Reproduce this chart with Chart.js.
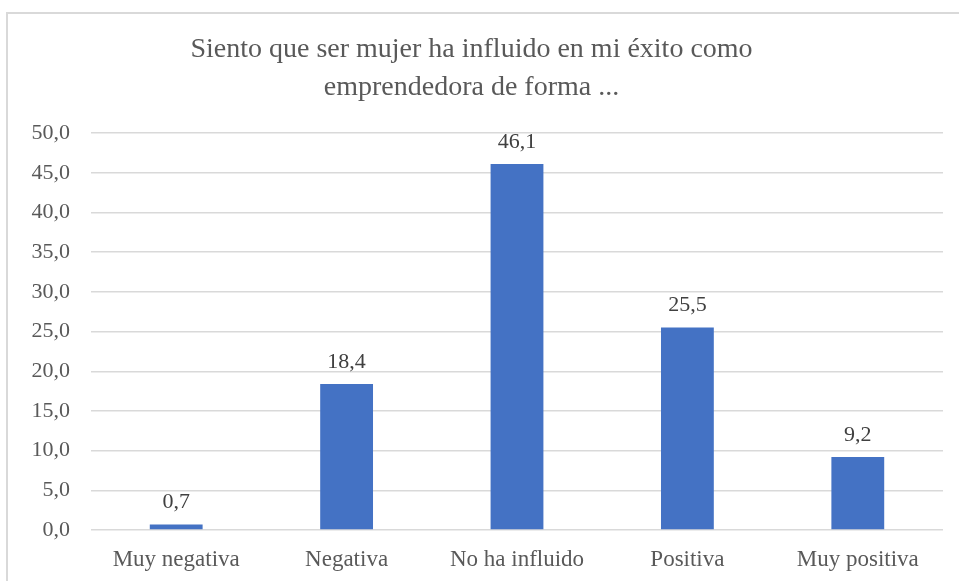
<!DOCTYPE html>
<html lang="es">
<head>
<meta charset="utf-8">
<title>Siento que ser mujer ha influido en mi éxito</title>
<script src="https://cdn.jsdelivr.net/npm/chart.js@4.4.1/dist/chart.umd.min.js"></script>
<style>
  html, body { margin: 0; padding: 0; background: #fff; overflow: hidden; }
  #frame {
    position: absolute; left: 6px; top: 12px; width: 980px; height: 600px;
    border: 2px solid #d9d9d9; box-sizing: border-box;
  }
  #wrap { position: absolute; left: 0; top: 0; width: 959px; height: 581px; }
</style>
</head>
<body>
<div id="frame"></div>
<div id="wrap"><canvas id="chart"></canvas></div>
<script>
const categories = ["Muy negativa", "Negativa", "No ha influido", "Positiva", "Muy positiva"];
const values = [0.7, 18.4, 46.1, 25.5, 9.2];
const titleLines = ["Siento que ser mujer ha influido en mi éxito como", "emprendedora de forma ..."];

const SERIF = "'Liberation Serif', 'Times New Roman', serif";
const TEXT = "#595959";

function fmt(v) {
  return Number(v).toFixed(1).replace(".", ",");
}

// labels over each bar, like the Excel data labels
const barLabels = {
  id: "barLabels",
  afterDatasetsDraw(chart) {
    const ctx = chart.ctx;
    const meta = chart.getDatasetMeta(0);
    ctx.save();
    ctx.font = "22px " + SERIF;
    ctx.fillStyle = "#404040";
    ctx.textAlign = "center";
    ctx.textBaseline = "bottom";
    meta.data.forEach((bar, i) => {
      ctx.fillText(fmt(values[i]), bar.x, bar.y - 11);
    });
    ctx.restore();
  }
};

new Chart(document.getElementById("chart"), {
  type: "bar",
  data: {
    labels: categories,
    datasets: [
      {
        data: values,
        backgroundColor: "#4472C4",
        barPercentage: 0.62,
        categoryPercentage: 0.5
      }
    ]
  },
  options: {
    responsive: true,
    maintainAspectRatio: false,
    animation: false,
    layout: { padding: { left: 0, right: 16, top: 0, bottom: 0 } },
    plugins: {
      legend: { display: false },
      tooltip: { enabled: false },
      title: {
        display: true,
        text: titleLines,
        color: TEXT,
        font: { family: SERIF, size: 28, weight: "normal", lineHeight: 1.36 },
        padding: { top: 31, bottom: 26 }
      }
    },
    scales: {
      x: {
        grid: { display: false },
        border: { display: false },
        ticks: {
          color: TEXT,
          font: { family: SERIF, size: 23 },
          padding: 8,
          maxRotation: 0
        },
        afterFit: (s) => { s.height = 51; }
      },
      y: {
        min: 0,
        max: 50,
        grid: { color: "#d9d9d9", lineWidth: 1.5, drawTicks: false },
        border: { display: false },
        ticks: {
          stepSize: 5,
          color: TEXT,
          font: { family: SERIF, size: 22 },
          padding: 21,
          callback: (v) => fmt(v)
        },
        afterFit: (s) => { s.width = 91; }
      }
    }
  },
  plugins: [barLabels]
});
</script>
</body>
</html>
